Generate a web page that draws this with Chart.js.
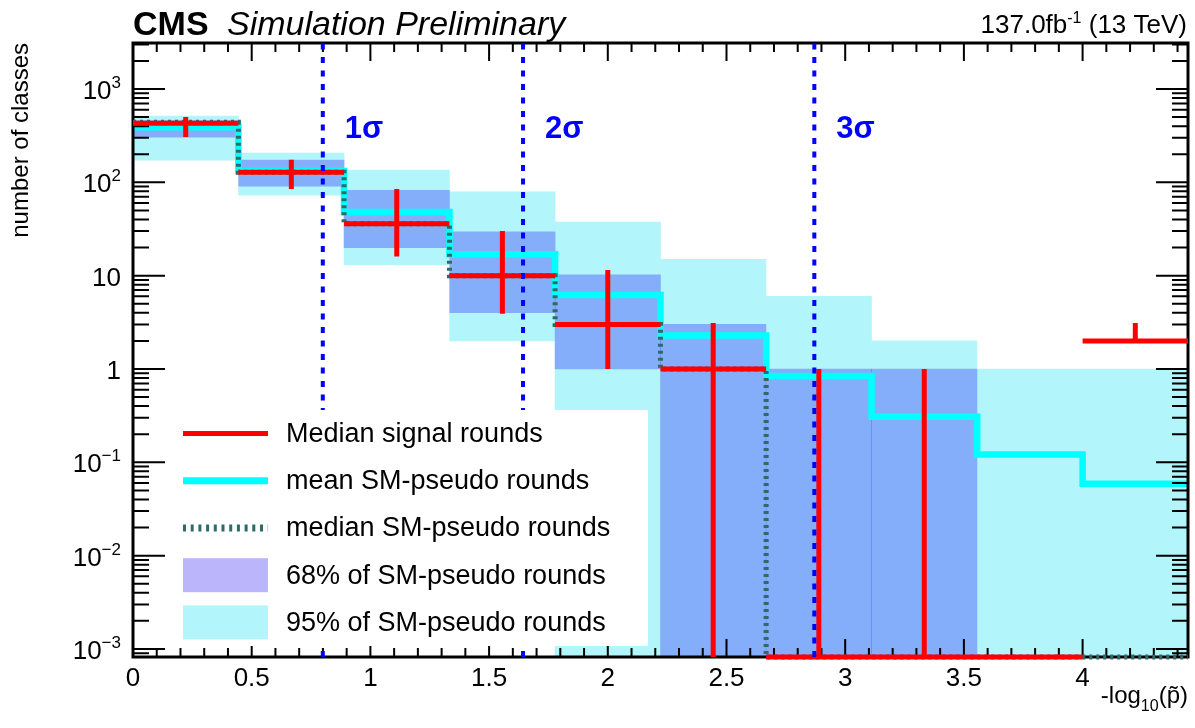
<!DOCTYPE html>
<html>
<head>
<meta charset="utf-8">
<title>number of classes vs -log10(p)</title>
<style>
*{padding:0;margin:0;box-sizing:border-box}
html,body{width:1195px;height:728px;background:#ffffff;overflow:hidden}
.wrapper{position:absolute;left:0;top:0;width:1195px;height:728px}
</style>
</head>
<body>
<div class="wrapper"><canvas id="myChart" width="1195" height="728"></canvas></div>
<script src="https://cdn.jsdelivr.net/npm/chart.js@4"></script>
<script>
// bins of -log10(p~)
const binEdges = [0, 0.444, 0.889, 1.333, 1.778, 2.222, 2.667, 3.111, 3.556, 4.0, 4.444];
const binCenters = [0.222, 0.667, 1.111, 1.556, 2.0, 2.444, 2.889, 3.333, 3.778, 4.222];

// median signal rounds (0 = nothing in the bin)
const signalMedian = [430, 128, 36, 10, 3, 1, 0, 0, 0, 2];
const signalUp = [500, 175, 85, 30, 11.5, 3.1, 1, 1, 0, 3.1];
const signalDown = [305, 85, 16, 3.9, 1, 0, 0, 0, 0, 2];

// SM pseudo rounds
const meanSM = [390, 132, 48, 17, 6.2, 2.28, 0.84, 0.307, 0.121, 0.059];
const medianSM = [440, 128, 36, 10, 3, 1, 0, 0, 0, 0];
const band68Lo = [305, 91, 20, 4, 1, 0, 0, 0];
const band68Hi = [460, 173, 82, 29.5, 10.2, 3, 1, 1];
const band95Lo = [173, 73, 13, 2, 0, 0, 0, 0, 0, 0];
const band95Hi = [514, 206, 135, 79, 37.6, 15, 6, 2, 1, 1];

const sigmaLines = [0.7995, 1.643, 2.870];
const sigmaLabels = ['1σ', '2σ', '3σ'];

const xTicks = [0, 0.5, 1, 1.5, 2, 2.5, 3, 3.5, 4];
const xTickLabels = ['0', '0.5', '1', '1.5', '2', '2.5', '3', '3.5', '4'];
const yDecades = [-3, -2, -1, 0, 1, 2, 3];

const legendLabels = ['Median signal rounds', 'mean SM-pseudo rounds', 'median SM-pseudo rounds', '68% of SM-pseudo rounds', '95% of SM-pseudo rounds'];

const X_MAX = 4.444;
const Y_MIN = 0.00082;
const Y_MAX = 3110;
const FONT = '"Liberation Sans", Arial, Helvetica, sans-serif';

const COL_RED = '#ff0000';
const COL_CYAN = '#00ffff';
const COL_DOT = '#2f6a6a';
const COL_68 = 'rgba(20, 0, 245, 0.29)';
const COL_95 = '#b2f6fb';
const COL_SIGMA = '#0000ff';

// empty bins sit on the lower edge of the log axis
const onScale = (v) => v > 0 ? v : Y_MIN;

const redBars = [];
signalMedian.forEach((v, i) => {
  redBars.push({ x: binEdges[i], y: onScale(v) }, { x: binEdges[i + 1], y: onScale(v) }, { x: binEdges[i + 1], y: null });
});
const redErr = [];
signalMedian.forEach((v, i) => {
  if (signalUp[i] > signalDown[i]) {
    redErr.push({ x: binCenters[i], y: onScale(signalDown[i]) }, { x: binCenters[i], y: signalUp[i] }, { x: binCenters[i], y: null });
  }
});
const stepPoints = (vals) => vals.map((v, i) => ({ x: binEdges[i], y: onScale(v) }))
  .concat([{ x: binEdges[vals.length], y: onScale(vals[vals.length - 1]) }]);
const sigmaPts = [];
sigmaLines.forEach(s => sigmaPts.push({ x: s, y: Y_MIN }, { x: s, y: Y_MAX }, { x: s, y: null }));

const lineBase = { type: 'line', pointRadius: 0, fill: false, tension: 0, spanGaps: false };

const MEAN_INDEX = 4;
const datasets = [
  { ...lineBase, label: 'sigma', data: sigmaPts, borderColor: COL_SIGMA, borderWidth: 4, borderDash: [6, 7.5], order: 0 },
  { ...lineBase, label: legendLabels[0], data: redBars, borderColor: COL_RED, borderWidth: 5, clip: false, order: 1 },
  { ...lineBase, label: 'err', data: redErr, borderColor: COL_RED, borderWidth: 5, clip: false, order: 1 },
  { ...lineBase, label: legendLabels[2], data: stepPoints(medianSM), stepped: 'before', borderColor: COL_DOT, borderWidth: 5, borderDash: [3, 4], clip: false, order: 3 },
  { ...lineBase, label: legendLabels[1], data: stepPoints(meanSM), stepped: 'before', borderColor: COL_CYAN, borderWidth: 6.5, order: 4 },
  { type: 'bar', label: legendLabels[3], data: band68Hi.map((v, i) => ({ x: binCenters[i], y: [onScale(band68Lo[i]), v] })),
    backgroundColor: COL_68, borderWidth: 0, grouped: false, barPercentage: 1, categoryPercentage: 1, order: 5 },
  { type: 'bar', label: legendLabels[4], data: band95Hi.map((v, i) => ({ x: binCenters[i], y: [onScale(band95Lo[i]), v] })),
    backgroundColor: COL_95, borderWidth: 0, grouped: false, barPercentage: 1, categoryPercentage: 1, order: 6 },
];

// draws text pieces (with raised/lowered small parts), right aligned at xRight
function drawParts(ctx, parts, xRight, yBase) {
  let total = 0;
  parts.forEach(p => { ctx.font = p.font; p.w = ctx.measureText(p.t).width; total += p.w; });
  let xx = xRight - total;
  ctx.textAlign = 'left';
  ctx.textBaseline = 'alphabetic';
  parts.forEach(p => { ctx.font = p.font; ctx.fillText(p.t, xx, yBase + (p.dy || 0)); xx += p.w; });
}

const rootLook = {
  id: 'rootLook',
  // frame and ticks go above the bands and the mean line, below median/signal/sigma lines
  afterDatasetDraw(chart, args) {
    if (args.index !== MEAN_INDEX) return;
    const { ctx, chartArea: a, scales: { x, y } } = chart;
    ctx.save();
    ctx.setLineDash([]);
    ctx.strokeStyle = '#000000';
    ctx.lineWidth = 2;
    ctx.beginPath();
    for (let k = 0; k <= 44; k++) {
      const px = x.getPixelForValue(k / 10);
      const len = k % 5 == 0 ? 18 : 9;
      ctx.moveTo(px, a.bottom); ctx.lineTo(px, a.bottom - len);
      ctx.moveTo(px, a.top); ctx.lineTo(px, a.top + len);
    }
    for (let e = -4; e <= 3; e++) {
      for (let m = 1; m <= 9; m++) {
        const v = m * Math.pow(10, e);
        if (v < Y_MIN || v > Y_MAX) continue;
        const py = y.getPixelForValue(v);
        const len = m == 1 ? 32 : 16;
        ctx.moveTo(a.left, py); ctx.lineTo(a.left + len, py);
        ctx.moveTo(a.right, py); ctx.lineTo(a.right - len, py);
      }
    }
    ctx.stroke();
    ctx.lineWidth = 3;
    ctx.strokeRect(a.left, a.top, a.right - a.left, a.bottom - a.top);
    ctx.restore();
  },
  afterDatasetsDraw(chart) {
    const { ctx, scales: { x } } = chart;
    ctx.save();
    // sigma labels
    ctx.fillStyle = COL_SIGMA;
    ctx.font = `bold 31px ${FONT}`;
    ctx.textAlign = 'left';
    ctx.textBaseline = 'alphabetic';
    sigmaLines.forEach((s, i) => ctx.fillText(sigmaLabels[i], x.getPixelForValue(s) + 22, 138));

    // legend box
    const lx = 168, ly = 410, lw = 480, lh = 236, row = lh / 5;
    ctx.fillStyle = '#ffffff';
    ctx.fillRect(lx, ly, lw, lh);
    legendLabels.forEach((txt, i) => {
      const cy = ly + row * (i + 0.5);
      ctx.setLineDash([]);
      if (i == 0) {
        ctx.strokeStyle = COL_RED; ctx.lineWidth = 5;
        ctx.beginPath(); ctx.moveTo(183, cy); ctx.lineTo(268, cy); ctx.stroke();
      }
      else if (i == 1) {
        ctx.strokeStyle = COL_CYAN; ctx.lineWidth = 7;
        ctx.beginPath(); ctx.moveTo(183, cy); ctx.lineTo(268, cy); ctx.stroke();
      }
      else if (i == 2) {
        ctx.strokeStyle = COL_DOT; ctx.lineWidth = 7; ctx.setLineDash([3, 4.7]);
        ctx.beginPath(); ctx.moveTo(183, cy); ctx.lineTo(268, cy); ctx.stroke();
      }
      else {
        ctx.fillStyle = i == 3 ? COL_68 : COL_95;
        ctx.fillRect(183, cy - 17, 85, 34);
      }
      ctx.fillStyle = '#000000';
      ctx.font = `27px ${FONT}`;
      ctx.textBaseline = 'middle';
      ctx.fillText(txt, 286, cy + 1);
    });
    ctx.restore();
  },
  afterDraw(chart) {
    const { ctx, chartArea: a, scales: { x, y } } = chart;
    ctx.save();
    ctx.fillStyle = '#000000';

    // x tick labels
    ctx.font = `26px ${FONT}`;
    ctx.textAlign = 'center';
    ctx.textBaseline = 'alphabetic';
    xTicks.forEach((v, i) => ctx.fillText(xTickLabels[i], x.getPixelForValue(v), a.bottom + 29));

    // y tick labels 10^n
    yDecades.forEach(e => {
      const py = y.getPixelForValue(Math.pow(10, e)) + 10;
      const main = e == 0 ? '1' : '10';
      const sup = (e == 0 || e == 1) ? '' : (e < 0 ? '\u2212' + (-e) : String(e));
      drawParts(ctx, [{ t: main, font: `26px ${FONT}` }, { t: sup, font: `17px ${FONT}`, dy: -11 }], 121, py);
    });

    // axis titles
    drawParts(ctx, [
      { t: '-log', font: `24px ${FONT}` },
      { t: '10', font: `16px ${FONT}`, dy: 8 },
      { t: '(p\u0303)', font: `24px ${FONT}` },
    ], a.right, 703);

    ctx.save();
    ctx.translate(28, a.top);
    ctx.rotate(-Math.PI / 2);
    ctx.font = `24px ${FONT}`;
    ctx.textAlign = 'right';
    ctx.textBaseline = 'alphabetic';
    ctx.fillText('number of classes', 0, 0);
    ctx.restore();

    // header
    ctx.textAlign = 'left';
    ctx.font = `bold 34px ${FONT}`;
    ctx.fillText('CMS', a.left, 35);
    ctx.font = `italic 34px ${FONT}`;
    ctx.fillText('Simulation Preliminary', 227, 35);
    drawParts(ctx, [
      { t: '137.0fb', font: `26px ${FONT}` },
      { t: '-1', font: `16px ${FONT}`, dy: -10 },
      { t: ' (13 TeV)', font: `26px ${FONT}` },
    ], 1187, 33);
    ctx.restore();
  },
};

const ctx = document.getElementById('myChart').getContext('2d');
const myChart = new Chart(ctx, {
  type: 'bar',
  data: { datasets: datasets },
  options: {
    responsive: false,
    animation: false,
    devicePixelRatio: 1,
    layout: { padding: { left: 133, right: 7, top: 43, bottom: 71 } },
    plugins: { legend: { display: false }, tooltip: { enabled: false } },
    scales: {
      x: { type: 'linear', offset: false, min: 0, max: X_MAX, display: false, ticks: { stepSize: 0.5 }, grid: { display: false } },
      y: { type: 'logarithmic', min: Y_MIN, max: Y_MAX, display: false, grid: { display: false } },
    },
  },
  plugins: [rootLook],
});
</script>
</body>
</html>
